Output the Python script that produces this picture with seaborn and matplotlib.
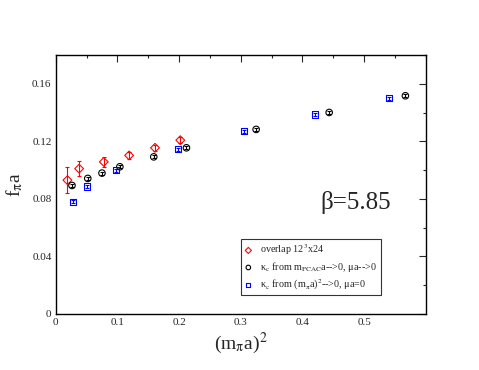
import numpy as np
import pandas as pd
import matplotlib
matplotlib.use('Agg')
import matplotlib.pyplot as plt
import seaborn as sns
from matplotlib.ticker import MultipleLocator

# overlap 12^3x24
ov_x = [0.019, 0.038, 0.078, 0.119, 0.161, 0.202]
ov_y = [0.093, 0.101, 0.1057, 0.1102, 0.1155, 0.1208]
ov_err = [0.0093, 0.0052, 0.0035, 0.0022, 0.002, 0.002]

# kappa_c from m_PCAC
pc_x = [0.0264, 0.052, 0.075, 0.104, 0.159, 0.212, 0.325, 0.4434, 0.567]
pc_y = [0.0893, 0.0942, 0.0979, 0.1023, 0.1092, 0.1155, 0.1283, 0.1401, 0.1517]
pc_err = [0.001] * 9

# kappa_c from (m_pi a)^2
mp_x = [0.028, 0.0507, 0.0972, 0.1977, 0.3057, 0.420, 0.541]
mp_y = [0.0779, 0.0886, 0.1000, 0.1146, 0.1271, 0.1387, 0.1500]
mp_err = [0.001] * 7

labels = ['overlap 12$^3$x24',
          'κ$_\\mathrm{c}$ from m$_\\mathrm{PCAC}$a-->0, μa-->0',
          'κ$_\\mathrm{c}$ from (m$_\\mathrm{π}$a)$^2$-->0, μa=0']

sns.set_style('white')
plt.rcParams['font.family'] = ['Liberation Serif', 'DejaVu Serif']
plt.rcParams['mathtext.fontset'] = 'stix'

fig = plt.figure(figsize=(4.79, 3.70), dpi=100)
ax = fig.add_axes([0.1163, 0.152, 0.7725, 0.699])

series = [
    (ov_x, ov_y, ov_err, 'red', 'D', 20, labels[0]),
    (pc_x, pc_y, pc_err, 'black', 'o', 22, labels[1]),
    (mp_x, mp_y, mp_err, 'blue', 's', 20, labels[2]),
]
for x, y, e, c, m, s, lab in series:
    df = pd.DataFrame({'x': x, 'y': y})
    ax.errorbar(x, y, yerr=e, fmt='none', ecolor=c, elinewidth=0.8, capsize=1.5, capthick=0.8)
    sns.scatterplot(data=df, x='x', y='y', ax=ax, marker=m, s=s, fc='none', ec=c,
                    linewidth=0.8, label=lab, zorder=3)

ax.set_xlim(0, 0.6)
ax.set_ylim(0, 0.18)
ax.xaxis.set_major_locator(MultipleLocator(0.1))
ax.xaxis.set_minor_locator(MultipleLocator(0.05))
ax.yaxis.set_major_locator(MultipleLocator(0.04))
ax.yaxis.set_minor_locator(MultipleLocator(0.02))
ax.set_xticks([0, 0.1, 0.2, 0.3, 0.4, 0.5])
ax.set_xticklabels(['0', '0.1', '0.2', '0.3', '0.4', '0.5'])
ax.set_yticks([0, 0.04, 0.08, 0.12, 0.16])
ax.set_yticklabels(['0', '0.04', '0.08', '0.12', '0.16'])
ax.tick_params(which='both', direction='in', top=True, right=True, labelsize=8, width=0.8)
ax.tick_params(which='major', length=5, pad=3)
ax.tick_params(which='minor', length=2.5)
for sp in ax.spines.values():
    sp.set_linewidth(1.0)
    sp.set_color('black')

ax.set_xlabel('(m$_\\mathrm{π}$a)$^2$', fontsize=14, labelpad=3)
ax.set_ylabel('f$_\\mathrm{π}$a', fontsize=14, labelpad=5)

ax.text(0.714, 0.43, 'β=5.85', transform=ax.transAxes, fontsize=18, ha='left', va='center')

leg = ax.legend(loc='lower left', bbox_to_anchor=(0.5, 0.072), borderaxespad=0,
                fontsize=7.3, frameon=True, fancybox=False, edgecolor='black',
                markerscale=0.7, handlelength=0.8, handletextpad=0.8,
                borderpad=0.35, labelspacing=0.3)
leg.get_frame().set_linewidth(0.8)

fig.savefig('out.png', dpi=100)
